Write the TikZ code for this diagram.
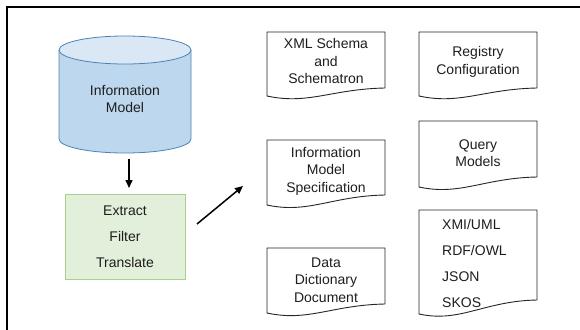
\documentclass[tikz,border=0pt]{standalone}
\usepackage{fontspec}
\setmainfont{Liberation Sans}
\usetikzlibrary{arrows.meta}
\definecolor{cylbody}{HTML}{BDD7EE}
\definecolor{cyltop}{HTML}{DAE8F6}
\definecolor{cylline}{HTML}{4F81B4}
\definecolor{grfill}{HTML}{E2EFDA}
\definecolor{grline}{HTML}{A9D18E}
\definecolor{txt}{HTML}{1E1E1E}
\definecolor{docline}{HTML}{262626}
\newcommand\docshape[5]{%
  \draw[docbox] (#1,#4) -- (#1,#2) -- (#3,#2) -- (#3,#5)
    .. controls ({#1+0.55*(#3-#1)},{#5+1}) and ({#1+0.35*(#3-#1)},{#4+9}) .. (#1,#4) -- cycle;}
\begin{document}
\begin{tikzpicture}[x=1pt,y=-1pt,
  every node/.style={font=\fontsize{14}{17.5}\selectfont, text=txt, inner sep=0pt},
  docbox/.style={draw=docline, line width=0.9pt, fill=white},
  doctext/.style={align=center},
  listtext/.style={align=left, anchor=west, font=\fontsize{14}{26}\selectfont},
  arr/.style={-{Triangle[length=8pt,width=7pt]}, line width=1.5pt, black},
  frame/.style={line width=2pt, black}]
\useasboundingbox (0,0) rectangle (580,329);
\clip (0,0) rectangle (580,329);
\draw[frame] (7,340) -- (7,7) -- (590,7);

% cylinder
\fill[cylbody] (59,50) -- (59,139) arc[start angle=180, end angle=0, x radius=66, y radius=14] -- (191,50) -- cycle;
\draw[cylline, line width=0.8pt] (59,50) -- (59,139) arc[start angle=180, end angle=0, x radius=66, y radius=14] -- (191,50);
\draw[cylline, line width=0.8pt, fill=cyltop] (125,50) ellipse[x radius=66, y radius=14];
\node[align=center] (im) at (125,99) {Information\\Model};

% green box
\node[draw=grline, fill=grfill, line width=0.8pt, minimum width=120pt, minimum height=85pt,
      align=center, font=\fontsize{14}{26}\selectfont] (etl) at (125,236.5) {Extract\\Filter\\Translate};

% arrows
\coordinate (d1) at (129,159);
\coordinate (d2) at (129,188);
\draw[arr] (d1) -- (d2);
\coordinate (g1) at (197,224);
\coordinate (g2) at (243,186);
\draw[arr] (g1) -- (g2);

% documents
\docshape{267}{32}{385}{96}{88}
\node[doctext] (xsd) at (326,61) {XML Schema\\and\\Schematron};
\docshape{419}{32}{537}{96}{88}
\node[doctext] (reg) at (478,62) {Registry\\Configuration};
\docshape{419}{121}{537}{187}{177}
\node[doctext] (qm) at (478,153) {Query\\Models};
\docshape{267}{140}{385}{205}{195}
\node[doctext] (ims) at (326,171) {Information\\Model\\Specification};
\docshape{267}{248}{385}{313}{304}
\node[doctext] (ddd) at (326,280) {Data\\Dictionary\\Document};
\docshape{419}{210}{537}{314}{300}
\node[listtext] (fmt) at (442,263) {XMI/UML\\RDF/OWL\\JSON\\SKOS};
\end{tikzpicture}
\end{document}
